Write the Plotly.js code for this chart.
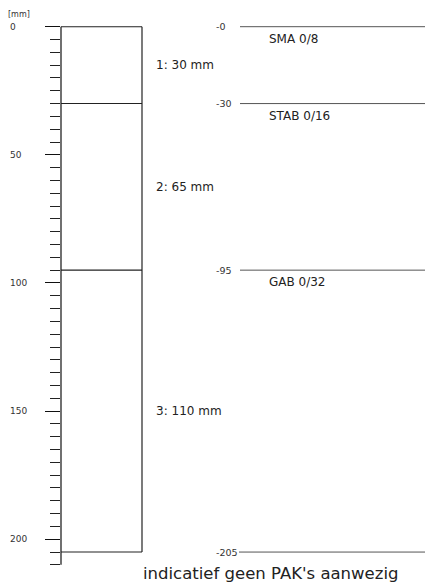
<!DOCTYPE html>
<html>
<head>
<meta charset="utf-8">
<script src="https://cdn.plot.ly/plotly-3.0.1.min.js"></script>
<style>html,body{margin:0;padding:0;background:#fff;}#chart{width:425px;height:588px;}</style>
</head>
<body>
<div id="chart"></div>
<script>
// ---- data ----
const layerTops = [0, 30, 95];
const layerBottoms = [30, 95, 205];
const layerThickness = [30, 65, 110];
const materials = ["SMA 0/8", "STAB 0/16", "GAB 0/32"];
const boundaryDepths = [0, 30, 95, 205];
const depthTickVals = [0, 50, 100, 150, 200];
const axisMaxDepth = 210;
const unitLabel = "[mm]";
const footnote = "indicatief geen PAK's aanwezig";

// ---- layout helpers (positions in paper units) ----
const L = 61, W = 425 - 61;
const px = p => (p - L) / W;
const boxRight = px(142);
const rightLineStart = px(240);
const depthLabelX = px(214);
const matLabelX = px(267);
const layerLabelX = px(154);
const tickLabelX = px(8);

const shapes = [];
// left axis line
shapes.push({type:'line', xref:'paper', yref:'y', x0:0, x1:0, y0:0, y1:axisMaxDepth,
  line:{color:'#111', width:1.2}});
// box right side
shapes.push({type:'line', xref:'paper', yref:'y', x0:boxRight, x1:boxRight, y0:boundaryDepths[0], y1:boundaryDepths[boundaryDepths.length-1],
  line:{color:'#222', width:1.2}});
boundaryDepths.forEach((d, i) => {
  shapes.push({type:'line', xref:'paper', yref:'y', x0:0, x1:boxRight, y0:d, y1:d,
    line:{color:'#222', width:1.1}});
  const start = (i === boundaryDepths.length-1) ? px(239) : rightLineStart;
  shapes.push({type:'line', xref:'paper', yref:'y', x0:start, x1:1, y0:d, y1:d,
    line:{color:'#555', width:1}});
});

const ann = [];
const font = 'DejaVu Sans, Verdana, sans-serif';
depthTickVals.forEach(v => ann.push({xref:'paper', yref:'y', x:tickLabelX, y:v, text:String(v),
  xanchor:'left', yanchor:'middle', showarrow:false, font:{family:font, size:9, color:'#333'}}));
ann.push({xref:'paper', yref:'paper', x:px(6), y:1.008, text:unitLabel, xanchor:'left', yanchor:'middle',
  showarrow:false, font:{family:font, size:8, color:'#333'}});
layerThickness.forEach((t, i) => {
  ann.push({xref:'paper', yref:'y', x:layerLabelX, y:(layerTops[i]+layerBottoms[i])/2,
    text:(i+1) + ': ' + t + ' mm', xanchor:'left', yanchor:'middle', showarrow:false,
    font:{family:font, size:12, color:'#222'}});
  ann.push({xref:'paper', yref:'y', x:matLabelX, y:layerTops[i], yshift:-12,
    text:materials[i], xanchor:'left', yanchor:'middle', showarrow:false,
    font:{family:font, size:12, color:'#222'}});
});
boundaryDepths.forEach(d => ann.push({xref:'paper', yref:'y', x:depthLabelX, y:d,
  text:'-' + d, xanchor:'left', yanchor:'middle', showarrow:false,
  font:{family:font, size:9.5, color:'#333'}}));
ann.push({xref:'paper', yref:'paper', x:px(270), y:-0.006, text:footnote, xanchor:'center', yanchor:'middle',
  showarrow:false, font:{family:font, size:16.5, color:'#222'}});

const data = [{x:[0.1], y:[layerTops[0]], mode:'markers', marker:{opacity:0}, hoverinfo:'skip', showlegend:false}];

const layout = {
  width:425, height:588,
  margin:{l:61, r:0, t:19, b:18},
  paper_bgcolor:'#fff', plot_bgcolor:'rgba(0,0,0,0)',
  showlegend:false,
  xaxis:{range:[0,1], visible:false, fixedrange:true},
  yaxis:{range:[212, -3], showgrid:false, zeroline:false, showline:false,
    tickmode:'array', tickvals:depthTickVals, showticklabels:false,
    ticks:'outside', ticklen:15, tickcolor:'#111', tickwidth:1,
    minor:{dtick:5, tick0:0, ticks:'outside', ticklen:10, tickcolor:'#222', tickwidth:1, showgrid:false}},
  shapes:shapes, annotations:ann
};
Plotly.newPlot('chart', data, layout, {staticPlot:true, displayModeBar:false});
</script>
</body>
</html>
